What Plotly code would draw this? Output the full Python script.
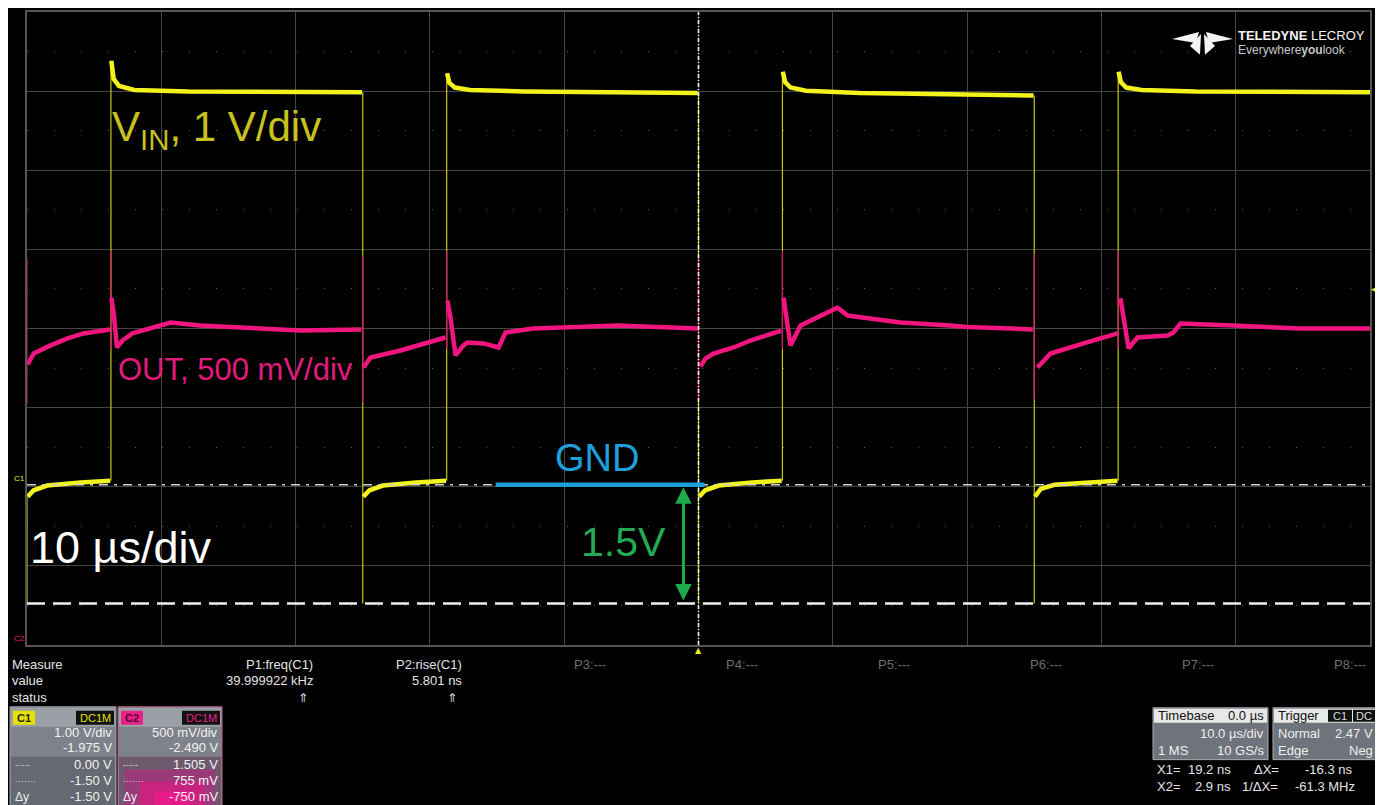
import plotly.graph_objects as go

# ---------------- figure geometry ----------------
W, H = 1383, 805
BODY = 8                                     # page margin around the figure
PL, PR, PT, PB = 27, 1370, 10, 645          # plot-area box in page pixels
FONT = "Liberation Sans, Arial, sans-serif"

# ---------------- scope settings (from the channel boxes) ----------------
C1_VDIV, C1_OFFSET = 1.0, -1.975            # VIN
C2_VDIV, C2_OFFSET = 0.5, -2.490            # OUT
T_DIV = 10.0                                 # us/div
N_XDIV, N_YDIV = 10, 8
C1_CURSOR_A, C1_CURSOR_B = 0.00, -1.50
TRIG_LEVEL = 2.47

# ---------------- C1 : VIN (time us, volts) ----------------
vin_t = [-49.95, -49.5, -48.5, -46.0, -43.8, None,
         -43.72, -43.55, -43.15, -42.0, -38.0, -30.0, -25.05, None,
         -24.95, -24.5, -23.5, -21.0, -18.8, None,
         -18.72, -18.55, -18.15, -17.0, -13.0, -5.0, -0.05, None,
         0.05, 0.5, 1.5, 4.0, 6.2, None,
         6.28, 6.45, 6.85, 8.0, 12.0, 20.0, 24.95, None,
         25.05, 25.5, 26.5, 29.0, 31.2, None,
         31.28, 31.45, 31.85, 33.0, 37.0, 45.0, 50.0]
vin_v = [-0.15, -0.07, -0.01, 0.03, 0.05, None,
         5.36, 5.13, 5.04, 4.99, 4.97, 4.97, 4.96, None,
         -0.15, -0.07, -0.01, 0.03, 0.05, None,
         5.20, 5.08, 5.02, 4.99, 4.97, 4.96, 4.95, None,
         -0.15, -0.07, -0.01, 0.03, 0.05, None,
         5.22, 5.09, 5.02, 4.98, 4.95, 4.93, 4.92, None,
         -0.15, -0.05, 0.0, 0.03, 0.05, None,
         5.22, 5.09, 5.02, 4.99, 4.97, 4.96, 4.96]
vin_edge_t = [-50.0, -43.75, -25.0, -18.75, 0.0, 6.25, 25.0, 31.25]
vin_edge_lo = [-1.50, 0.05, -1.50, 0.05, -1.50, 0.05, -1.50, 0.05]
vin_edge_hi = [-0.15, 5.36, 4.96, 5.20, 4.95, 5.22, 4.92, 5.22]

# ---------------- C2 : OUT (time us, volts) ----------------
out_t = [-49.95, -49.5, -48.25, -46.98, -45.79, -43.8, None,
         -43.72, -43.55, -43.3, -42.9, -42.15, -40.8, -39.3, -37.1, -33.4, -29.6, -25.1, None,
         -24.94, -24.42, -22.19, -19.73, -18.84, None,
         -18.69, -18.47, -18.09, -17.5, -17.2, -16.0, -14.89, -14.37, -12.29, -6.03, -0.05, None,
         0.15, 0.52, 1.12, 2.61, 3.87, 6.15, None,
         6.33, 6.55, 6.85, 7.6, 8.86, 10.35, 11.1, 13.78, 15.04, 18.76, 20.03, 24.9, None,
         25.24, 25.69, 26.21, 28.67, 31.2, None,
         31.42, 31.65, 32.02, 32.69, 34.92, 35.37, 35.89, 39.84, 44.82, 50.0]
out_v = [2.263, 2.332, 2.383, 2.427, 2.459, 2.484, None,
         2.685, 2.590, 2.370, 2.414, 2.459, 2.490, 2.528, 2.509, 2.490, 2.477, 2.484, None,
         2.244, 2.307, 2.351, 2.414, 2.433, None,
         2.666, 2.559, 2.320, 2.383, 2.402, 2.396, 2.370, 2.465, 2.490, 2.509, 2.490, None,
         2.250, 2.300, 2.332, 2.370, 2.414, 2.477, None,
         2.685, 2.570, 2.383, 2.509, 2.559, 2.622, 2.572, 2.540, 2.528, 2.509, 2.500, 2.484, None,
         2.244, 2.288, 2.332, 2.396, 2.459, None,
         2.680, 2.572, 2.364, 2.433, 2.446, 2.465, 2.521, 2.509, 2.490, 2.490]
out_edge_t = [-50.0, -43.75, -25.0, -18.75, 0.0, 6.25, 25.0, 31.25]
out_edge_lo = [2.02, 2.36, 2.02, 2.36, 2.04, 2.36, 2.04, 2.36]
out_edge_hi = [2.93, 2.98, 2.95, 2.98, 2.93, 2.98, 2.96, 2.98]

# ---------------- readout texts ----------------
meas_names = ["P1:freq(C1)", "P2:rise(C1)"]
meas_values = ["39.999922 kHz", "5.801 ns"]
meas_idle = ["P3:---", "P4:---", "P5:---", "P6:---", "P7:---", "P8:---"]
c1_rows = ["1.00 V/div", "-1.975 V", "0.00 V", "-1.50 V", "-1.50 V"]
c2_rows = ["500 mV/div", "-2.490 V", "1.505 V", "755 mV", "-750 mV"]


# ---------------- helpers (page pixel -> paper) ----------------
def px(x):
    return (x - PL) / (PR - PL)


def py(y):
    return (PB - y) / (PB - PT)


def edges(ts, lo, hi):
    xs, ys = [], []
    for t, a, b in zip(ts, lo, hi):
        xs += [t, t, None]
        ys += [a, b, None]
    return xs, ys


def ann(text, x, y, size, color, xa="left", ya="middle", family=FONT):
    return dict(text=text, x=px(x), y=py(y), xref="paper", yref="paper",
                xanchor=xa, yanchor=ya, showarrow=False,
                font=dict(size=size, color=color, family=family))


def rect(x0, y0, x1, y1, fill, lc=None, lw=0):
    return dict(type="rect", xref="paper", yref="paper",
                x0=px(x0), x1=px(x1), y0=py(y1), y1=py(y0),
                fillcolor=fill, line=dict(color=lc or fill, width=lw), layer="above")


def poly(pts, fill):
    d = "M " + " L ".join(f"{px(a):.5f},{py(b):.5f}" for a, b in pts) + " Z"
    return dict(type="path", xref="paper", yref="paper", path=d,
                fillcolor=fill, line=dict(width=0), layer="above")


YEL, YEL_DIM = "#f2f21c", "#c9c90a"
PNK, PNK_DIM = "#f0157f", "#d0146f"

fig = go.Figure()
ex, ey = edges(vin_edge_t, vin_edge_lo, vin_edge_hi)
fig.add_trace(go.Scatter(x=ex, y=ey, mode="lines", line=dict(color=YEL_DIM, width=1.2),
                         yaxis="y", hoverinfo="skip"))
fig.add_trace(go.Scatter(x=vin_t, y=vin_v, mode="lines", line=dict(color=YEL, width=4.5),
                         yaxis="y", connectgaps=False, hoverinfo="skip"))
ex, ey = edges(out_edge_t, out_edge_lo, out_edge_hi)
fig.add_trace(go.Scatter(x=ex, y=ey, mode="lines", line=dict(color=PNK_DIM, width=1.2),
                         yaxis="y2", hoverinfo="skip"))
fig.add_trace(go.Scatter(x=out_t, y=out_v, mode="lines", line=dict(color=PNK, width=4.5),
                         yaxis="y2", connectgaps=False, hoverinfo="skip"))

c1_center = -C1_OFFSET
c2_center = -C2_OFFSET
GRID = "#454545"

shapes = []
# cursors
shapes.append(dict(type="line", xref="x", yref="y", x0=-5 * T_DIV, x1=5 * T_DIV,
                   y0=C1_CURSOR_A, y1=C1_CURSOR_A, line=dict(color="#d0d0d0", width=1.6,
                   dash="9px,6px,3px,6px"), layer="above"))
shapes.append(dict(type="line", xref="x", yref="y", x0=-5 * T_DIV, x1=5 * T_DIV,
                   y0=C1_CURSOR_B, y1=C1_CURSOR_B, line=dict(color="#f0f0f0", width=2.4,
                   dash="18px,8px"), layer="above"))
shapes.append(dict(type="line", xref="x", yref="paper", x0=0, x1=0, y0=0, y1=1,
                   line=dict(color="#f0f0f0", width=1.6, dash="4px,2px,1px,2px"), layer="above"))
# GND marker line
shapes.append(dict(type="line", xref="x", yref="y", x0=-15.1, x1=0.45, y0=0, y1=0,
                   line=dict(color="#1e9fdc", width=4.5), layer="above"))
# channel boxes
shapes += [rect(10, 707, 116, 808, "#7e828a", "#a0a4ab", 1),
           rect(11, 708, 115, 727, "#9b9fa6"),
           rect(11, 757, 115, 808, "#656971"),
           rect(13, 711, 35, 725, "#e6e200"),
           rect(76, 711, 114, 725, "#111111")]
shapes += [rect(118, 707, 222, 808, "#7e828a", "#c0608f", 1),
           rect(119, 708, 221, 727, "#9b9fa6"),
           rect(119, 757, 221, 808, "#6e5a6c"),
           rect(125, 770, 215, 808, "#9a3a7a"),
           rect(140, 782, 205, 808, "#c8237f"),
           rect(155, 792, 190, 808, "#e61a88"),
           rect(121, 711, 143, 725, "#e8208a"),
           rect(182, 711, 220, 725, "#111111")]
# timebase / trigger boxes
shapes += [rect(1153, 708, 1268, 760, "#6f737b", "#a8acb2", 1),
           rect(1154, 709, 1267, 723, "#e8e8e8"),
           rect(1273, 708, 1377, 760, "#6f737b", "#a8acb2", 1),
           rect(1274, 709, 1376, 723, "#e8e8e8"),
           rect(1328, 710, 1352, 722, "#111111"),
           rect(1353, 710, 1375, 722, "#111111")]
# logo glyph
shapes += [poly([(1172, 37), (1199, 30), (1196, 41)], "#f4f4f4"),
           poly([(1233, 37), (1206, 30), (1209, 41)], "#f4f4f4"),
           poly([(1190, 44), (1201, 32), (1200, 53)], "#f4f4f4"),
           poly([(1215, 44), (1204, 32), (1205, 53)], "#f4f4f4")]

anns = []
# trace labels
anns.append(ann("V<sub>IN</sub>, 1 V/div", 110, 128, 42, "#c8c21e"))
anns.append(ann("OUT, 500 mV/div", 116, 369, 31, "#e01b7d"))
anns.append(ann("GND", 597, 457, 38, "#1ea0dc", xa="center"))
anns.append(ann("1.5V", 623, 542, 41, "#22aa55", xa="center"))
anns.append(ann("10 µs/div", 28, 547, 45, "#ffffff"))
# double arrow 1.5 V
anns.append(dict(x=-1.12, y=C1_CURSOR_A - 0.03, ax=-1.12, ay=C1_CURSOR_B + 0.02,
                 xref="x", yref="y", axref="x", ayref="y", text="", showarrow=True,
                 arrowhead=2, arrowside="end+start", arrowsize=1.1, arrowwidth=3,
                 arrowcolor="#1faa50", standoff=0, startstandoff=0))
# markers
anns.append(dict(text="◀", x=px(1374), y=TRIG_LEVEL, xref="paper", yref="y", showarrow=False,
                 font=dict(size=9, color=YEL, family="DejaVu Sans"), xanchor="center", yanchor="middle"))
anns.append(dict(text="▲", x=0, y=py(651), xref="x", yref="paper", showarrow=False,
                 font=dict(size=8, color=YEL, family="DejaVu Sans"), xanchor="center", yanchor="middle"))
anns.append(ann("C1", 12, 478, 8, YEL))
anns.append(ann("C2", 12, 638, 8, PNK))
# logo text
anns.append(ann("<b>TELEDYNE</b> LECROY", 1236, 34, 13, "#f4f4f4"))
anns.append(ann("Everywhere<b>you</b>look", 1236, 48, 12, "#c8c8c8"))
# measure panel
WT = "#e4e4e4"
anns += [ann("Measure", 10, 665, 13, WT), ann("value", 10, 681, 13, WT), ann("status", 10, 698, 13, WT)]
for i, (nm, vl) in enumerate(zip(meas_names, meas_values)):
    xr = 315 + i * 149
    anns += [ann(nm, xr, 665, 13, WT, xa="right"), ann(vl, xr, 681, 13, WT, xa="right"),
             ann("⇑", xr - 5, 698, 12, WT, xa="right", family="DejaVu Sans")]
for i, nm in enumerate(meas_idle):
    anns.append(ann(nm, 572 + i * 152, 665, 13, "#6e6e6e"))
# channel box texts
anns += [ann("<b>C1</b>", 24, 718, 11, "#222", xa="center"), ann("DC1M", 95, 718, 11, "#e6e200", xa="center"),
         ann("<b>C2</b>", 132, 718, 11, "#5a0030", xa="center"), ann("DC1M", 201, 718, 11, "#e8208a", xa="center")]
row_y = [733, 748, 765, 781, 797]
for yv, t1, t2 in zip(row_y, c1_rows, c2_rows):
    anns += [ann(t1, 114, yv, 13, "#f2f2f2", xa="right"), ann(t2, 220, yv, 13, "#f2f2f2", xa="right")]
for x0 in (13, 121):
    anns += [ann("-·-·-", x0, 765, 9, "#dddddd"), ann("·······", x0, 781, 9, "#dddddd"),
             ann("Δy", x0, 797, 12, "#eeeeee")]
# timebase / trigger texts
anns += [ann("Timebase", 1156, 716, 13, "#111"), ann("0.0 µs", 1266, 716, 13, "#111", xa="right"),
         ann("10.0 µs/div", 1266, 734, 13, "#eeeeee", xa="right"),
         ann("1 MS", 1156, 751, 13, "#eeeeee"), ann("10 GS/s", 1266, 751, 13, "#eeeeee", xa="right"),
         ann("Trigger", 1276, 716, 13, "#111"), ann("C1", 1340, 716, 11, "#dddddd", xa="center"),
         ann("DC", 1364, 716, 11, "#dddddd", xa="center"),
         ann("Normal", 1276, 734, 13, "#eeeeee"), ann("2.47 V", 1375, 734, 13, "#eeeeee", xa="right"),
         ann("Edge", 1276, 751, 13, "#eeeeee"), ann("Neg", 1375, 751, 13, "#eeeeee", xa="right")]
anns += [ann("X1=", 1155, 770, 13, WT), ann("19.2 ns", 1233, 770, 13, WT, xa="right"),
         ann("ΔX=", 1252, 770, 13, WT), ann("-16.3 ns", 1354, 770, 13, WT, xa="right"),
         ann("X2=", 1155, 787, 13, WT), ann("2.9 ns", 1233, 787, 13, WT, xa="right"),
         ann("1/ΔX=", 1240, 787, 13, WT), ann("-61.3 MHz", 1357, 787, 13, WT, xa="right")]

fig.update_layout(
    width=W, height=H, showlegend=False,
    margin=dict(l=PL - BODY, r=W - (PR - BODY), t=PT - BODY, b=H - (PB - BODY), pad=0),
    paper_bgcolor="black", plot_bgcolor="black",
    xaxis=dict(range=[-N_XDIV / 2 * T_DIV, N_XDIV / 2 * T_DIV], tick0=0, dtick=T_DIV,
               showgrid=True, gridcolor=GRID, gridwidth=1, zeroline=False,
               showticklabels=False, ticks="", showline=True, mirror=True,
               linecolor="#555555", linewidth=1.5, fixedrange=True),
    yaxis=dict(range=[c1_center - N_YDIV / 2 * C1_VDIV, c1_center + N_YDIV / 2 * C1_VDIV],
               tick0=c1_center, dtick=C1_VDIV, showgrid=True, gridcolor=GRID, gridwidth=1,
               zeroline=False, showticklabels=False, ticks="", showline=True, mirror=True,
               linecolor="#555555", linewidth=1.5, fixedrange=True,
               minor=dict(tick0=c1_center, dtick=C1_VDIV / 2, showgrid=True,
                          gridcolor="#5c5c5c", gridwidth=1, griddash="1px,26px")),
    yaxis2=dict(range=[c2_center - N_YDIV / 2 * C2_VDIV, c2_center + N_YDIV / 2 * C2_VDIV],
                overlaying="y", showgrid=False, zeroline=False, showticklabels=False,
                ticks="", visible=False, fixedrange=True),
    shapes=shapes, annotations=anns,
)

fig.write_html("out.html")
